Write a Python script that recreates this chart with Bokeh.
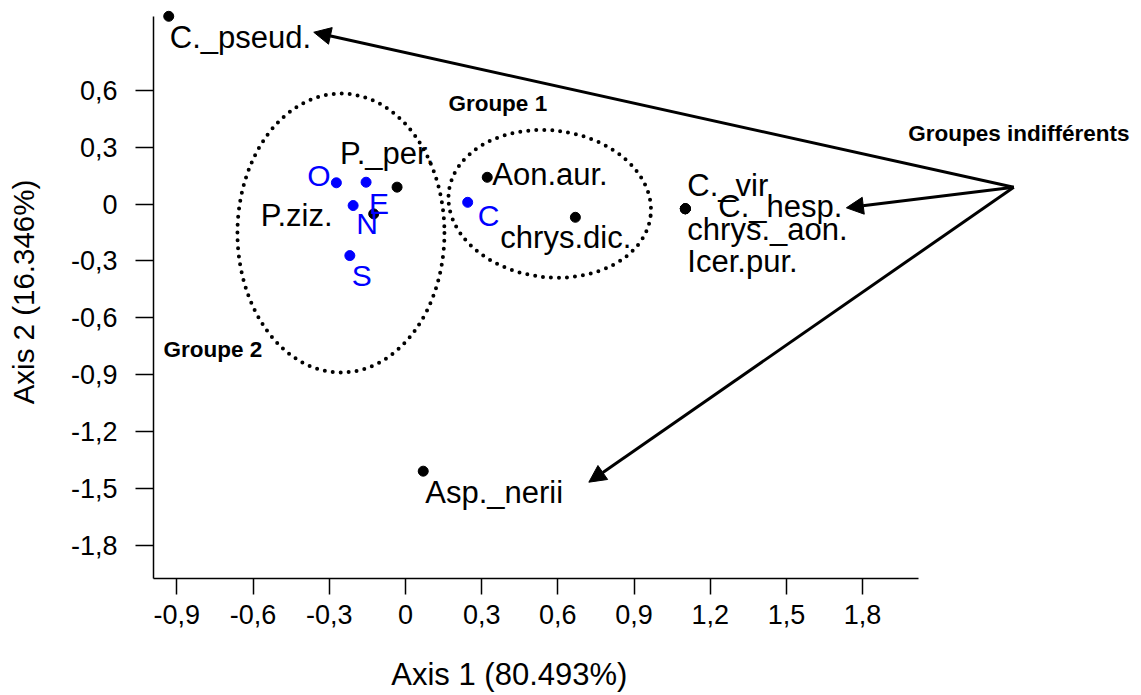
from bokeh.plotting import figure
from bokeh.layouts import column
from bokeh.models import (Range1d, FixedTicker, CustomJSTickFormatter, Arrow,
                          NormalHead, ColumnDataSource)
from bokeh.core.properties import value
from bokeh.embed import file_html
from bokeh.resources import INLINE

# ---------------- data ----------------
species = ["C._pseud.", "P._per.", "P.ziz.", "Aon.aur.", "chrys.dic.",
           "C._vir", "C._hesp.", "chrys._aon.", "Icer.pur.", "Asp._nerii"]
species_x = [-0.932, -0.033, -0.125, 0.322, 0.669, 1.102, 1.102, 1.102, 1.102, 0.070]
species_y = [0.990, 0.089, -0.052, 0.141, -0.070, -0.025, -0.025, -0.025, -0.025, -1.409]

sites = ["O", "E", "N", "S", "C"]
sites_x = [-0.272, -0.155, -0.206, -0.219, 0.245]
sites_y = [0.112, 0.115, -0.008, -0.272, 0.009]

groups = ["Groupe 1", "Groupe 2"]
group_cx = [0.568, -0.254]
group_cy = [0.001, -0.153]
group_w = [0.80, 0.815]
group_h = [0.774, 1.471]

group_labels = ["Groupe 1", "Groupe 2", "Groupes indifférents"]
group_label_x = [0.169, -0.953, 1.980]
group_label_y = [0.530, -0.767, 0.372]

arrow_x0 = [2.395, 2.395, 2.395]
arrow_y0 = [0.0886, 0.0886, 0.0886]
arrow_x1 = [-0.361, 1.736, 0.722]
arrow_y1 = [0.906, -0.020, -1.467]

x_ticks = [-0.9, -0.6, -0.3, 0.0, 0.3, 0.6, 0.9, 1.2, 1.5, 1.8]
x_tick_labels = ["-0,9", "-0,6", "-0,3", "0", "0,3", "0,6", "0,9", "1,2", "1,5", "1,8"]
y_ticks = [-1.8, -1.5, -1.2, -0.9, -0.6, -0.3, 0.0, 0.3, 0.6]
y_tick_labels = ["-1,8", "-1,5", "-1,2", "-0,9", "-0,6", "-0,3", "0", "0,3", "0,6"]

x_label = "Axis 1 (80.493%)"
y_label = "Axis 2 (16.346%)"

# label placement (screen px offsets from the point: left edge, vertical centre)
species_dx = [1, -57, -113, 5, -75, 2, 33, 2, 2, 2]
species_dy = [21, -34, 2, -3, 20, -23, -2, 21, 53, 21]
sites_dx = [-29, 3, 3, 2, 10]
sites_dy = [-7, 21, 18, 20, 13]

FONT = "Liberation Sans"
BLUE = "#0000FF"

p = figure(width=1141, height=655,
           x_range=Range1d(-0.992, 2.898), y_range=Range1d(-1.975, 1.047),
           output_backend="svg", toolbar_location=None,
           min_border_left=153, min_border_right=0,
           min_border_top=5, min_border_bottom=77,
           y_axis_label=y_label)
p.grid.visible = False
p.outline_line_color = None
p.background_fill_color = "white"
p.border_fill_color = "white"

TICK_JS = """
let best = 0;
for (let i = 0; i < tv.length; i++) {
  if (Math.abs(tv[i] - tick) < Math.abs(tv[best] - tick)) best = i;
}
return tl[best];
"""

xa = p.xaxis[0]
xa.ticker = FixedTicker(ticks=x_ticks)
xa.formatter = CustomJSTickFormatter(args=dict(tv=x_ticks, tl=x_tick_labels), code=TICK_JS)
xa.bounds = (-0.992, 2.02)
xa.major_tick_out = 16
xa.major_label_standoff = 10

ya = p.yaxis[0]
ya.ticker = FixedTicker(ticks=y_ticks)
ya.formatter = CustomJSTickFormatter(args=dict(tv=y_ticks, tl=y_tick_labels), code=TICK_JS)
ya.bounds = (-1.975, 0.99)
ya.major_tick_out = 18
ya.major_label_standoff = 18
ya.axis_label_standoff = 28

for ax in (xa, ya):
    ax.axis_line_color = "black"
    ax.axis_line_width = 1.5
    ax.major_tick_line_color = "black"
    ax.major_tick_line_width = 1.5
    ax.major_tick_in = 0
    ax.minor_tick_in = 0
    ax.minor_tick_out = 0
    ax.major_label_text_font = FONT
    ax.major_label_text_font_size = "27px"
    ax.major_label_text_color = "black"
    ax.axis_label_text_font = FONT
    ax.axis_label_text_font_size = "29.5px"
    ax.axis_label_text_font_style = "normal"
    ax.axis_label_text_color = "black"

# group ellipses (dotted)
p.ellipse(x=group_cx, y=group_cy, width=group_w, height=group_h, angle=[-0.12, 0.0],
          fill_color=None, line_color="black", line_width=4,
          line_dash="0 8", line_cap="round")

# arrows
arrows = ColumnDataSource(dict(x0=arrow_x0, y0=arrow_y0, x1=arrow_x1, y1=arrow_y1))
p.add_layout(Arrow(x_start="x0", y_start="y0", x_end="x1", y_end="y1", source=arrows,
                   line_color="black", line_width=3,
                   end=NormalHead(size=17, fill_color="black", line_color="black", line_width=1)))

# points
p.scatter(species_x, species_y, size=10, color="black")
p.scatter(sites_x, sites_y, size=10, color=BLUE)

# labels
sp = ColumnDataSource(dict(x=species_x, y=species_y, t=species, dx=species_dx, dy=species_dy))
p.text(x="x", y="y", text="t", x_offset="dx", y_offset="dy", source=sp,
       text_font=value(FONT), text_font_size="31px", text_color="black",
       text_align="left", text_baseline="middle")
st = ColumnDataSource(dict(x=sites_x, y=sites_y, t=sites, dx=sites_dx, dy=sites_dy))
p.text(x="x", y="y", text="t", x_offset="dx", y_offset="dy", source=st,
       text_font=value(FONT), text_font_size="30px", text_color=BLUE,
       text_align="left", text_baseline="middle")

p.text(x=group_label_x, y=group_label_y, text=group_labels,
       text_font=value(FONT), text_font_size="22.5px", text_font_style="bold",
       text_color="black", text_align="left", text_baseline="middle")

# strip below the plot holding the x-axis title (shares the x scale, no axes)
t = figure(width=1141, height=40, x_range=p.x_range, y_range=Range1d(0, 40),
           output_backend="svg", toolbar_location=None, min_border=0,
           min_border_left=153, min_border_right=0,
           x_axis_location=None, y_axis_location=None)
t.grid.visible = False
t.outline_line_color = None
t.text(x=[0.409], y=[21], text=[x_label], text_font=value(FONT), text_font_size="31px",
       text_color="black", text_align="center", text_baseline="middle")

layout = column(p, t, spacing=0)
open("out.html", "w").write(file_html(layout, INLINE))
